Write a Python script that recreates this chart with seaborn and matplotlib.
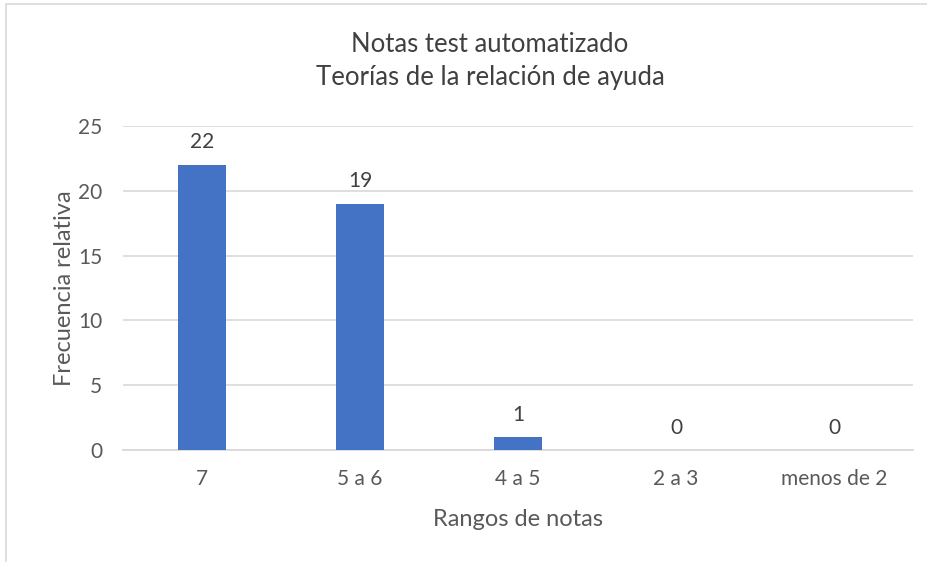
import matplotlib
matplotlib.use("Agg")
import matplotlib.pyplot as plt
import seaborn as sns
import pandas as pd
from matplotlib.lines import Line2D

categories = ["7", "5 a 6", "4 a 5", "2 a 3", "menos de 2"]
frecuencia = [22, 19, 1, 0, 0]
yticks = [0, 5, 10, 15, 20, 25]

df = pd.DataFrame({"rango": categories, "frecuencia": frecuencia})

sns.set_theme(style="white")
plt.rcParams["font.family"] = ["Lato", "DejaVu Sans"]
gray = "#595959"

fig = plt.figure(figsize=(9.28, 5.62), dpi=100)
ax = fig.add_axes([123/928, 1 - 450/562, 790/928, 324/562])

sns.barplot(data=df, x="rango", y="frecuencia", color="#4472C4", width=0.31,
            saturation=1, linewidth=0, ax=ax, zorder=3)

ax.set_ylim(0, 25)
ax.set_xlim(-0.5, 4.5)
ax.set_yticks(yticks)
ax.yaxis.grid(True, color="#D9D9D9", linewidth=1.2, zorder=0)
for s in ["top", "right", "left"]:
    ax.spines[s].set_visible(False)
ax.spines["bottom"].set_color("#D9D9D9")
ax.spines["bottom"].set_linewidth(1.3)
ax.tick_params(axis="both", length=0, labelsize=15, labelcolor=gray)
ax.tick_params(axis="y", pad=15)
ax.tick_params(axis="x", pad=14)

for i, v in enumerate(frecuencia):
    ax.annotate(str(v), (i, v), xytext=(0, 9), textcoords="offset points",
                ha="center", va="bottom", fontsize=15, color="#404040")

ax.set_xlabel("Rangos de notas", fontsize=17, color=gray, labelpad=14)
ax.set_ylabel("Frecuencia relativa", fontsize=17, color=gray, labelpad=2)

fig.text(490/928, 1 - 45/562, "Notas test automatizado", ha="center", va="center",
         fontsize=18.5, color="#404040")
fig.text(490/928, 1 - 78/562, "Teorías de la relación de ayuda", ha="center", va="center",
         fontsize=18.5, color="#404040")

# chart frame (partially visible)
fig.add_artist(Line2D([6/928, 6/928], [0, 1 - 4/562], color="#D9D9D9", linewidth=1.2))
fig.add_artist(Line2D([6/928, 1], [1 - 4/562, 1 - 4/562], color="#D9D9D9", linewidth=1.2))

fig.savefig("out.png", dpi=100)
